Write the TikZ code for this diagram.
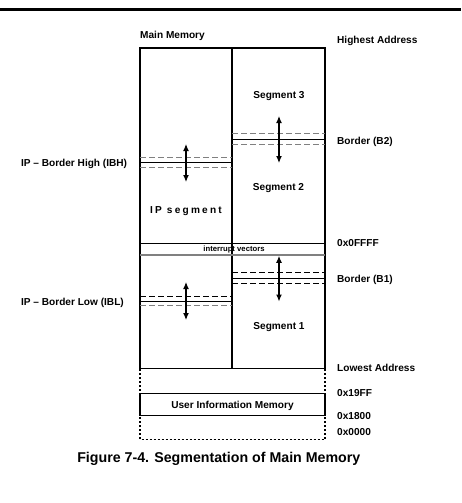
\documentclass[tikz,border=0pt]{standalone}
\usepackage{fontspec}
\setmainfont{Liberation Sans}
\usetikzlibrary{arrows.meta}
\begin{document}
\begin{tikzpicture}[x=1pt,y=-1pt,
  lbl/.style={font=\bfseries\fontsize{10.1}{12}\selectfont, inner sep=0pt, anchor=base west},
  lblr/.style={font=\bfseries\fontsize{10.1}{12}\selectfont, inner sep=0pt, anchor=base east},
  ctr/.style={font=\bfseries\fontsize{10.1}{12}\selectfont, inner sep=0pt, anchor=base},
  memframe/.style={line width=1.8pt},
  gdash/.style={black!50, line width=1.2pt, dash pattern=on 6pt off 3pt},
  bdash/.style={black, line width=1.2pt, dash pattern=on 6pt off 3pt},
  borderline/.style={line width=1.5pt},
  move/.style={line width=1.2pt, {Latex[length=7pt,width=6pt]}-{Latex[length=7pt,width=6pt]}},
  dotline/.style={line width=1.8pt, dash pattern=on 2pt off 2pt}
]
\useasboundingbox (0,0) rectangle (461,503);
\draw[line width=3.3pt] (0,9.3) -- (461,9.3);

% main memory frame
\draw[memframe] (140,48) rectangle (325,368.5);
\draw[memframe] (232,48) -- (232,368.5);

% interrupt vectors band
\draw[line width=1.1pt] (140,243.3) -- (325,243.3);
\draw[black!50, line width=1.8pt] (140,254.7) -- (325,254.7);
\node[font=\bfseries\fontsize{7.7}{9}\selectfont, inner sep=0pt, anchor=base] (iv) at (234,251.5) {interrupt vectors};

% user information memory
\draw[dotline] (140,369) -- (140,439.5) -- (325,439.5) -- (325,369);
\draw[memframe] (140,393.5) rectangle (325,415.5);
\node[ctr] (uim) at (232.5,408.5) {User Information Memory};

% IBH border
\draw[gdash] (140,157.7) -- (232,157.7);
\draw[borderline] (140,162.7) -- (232,162.7);
\draw[gdash] (140,167.3) -- (232,167.3);
% B2 border
\draw[gdash] (232,133.3) -- (325,133.3);
\draw[borderline] (232,139.3) -- (325,139.3);
\draw[gdash] (232,144.3) -- (325,144.3);
% B1 border
\draw[bdash] (232,272.7) -- (325,272.7);
\draw[borderline] (232,278.3) -- (325,278.3);
\draw[bdash] (232,283.3) -- (325,283.3);
% IBL border
\draw[bdash] (140,296.7) -- (232,296.7);
\draw[borderline] (140,301.3) -- (232,301.3);
\draw[gdash] (140,305.7) -- (232,305.7);

% movement arrows
\coordinate (ibhA) at (186,144);
\coordinate (ibhB) at (186,182);
\coordinate (iblA) at (186,282);
\coordinate (iblB) at (186,320);
\coordinate (btwoA) at (279,116);
\coordinate (btwoB) at (279,163);
\coordinate (boneA) at (279,255.8);
\coordinate (boneB) at (279,301.5);
\draw[move] (ibhA) -- (ibhB);
\draw[move] (iblA) -- (iblB);
\draw[move] (btwoA) -- (btwoB);
\draw[move] (boneA) -- (boneB);

% segment labels
\node[ctr] (seg3) at (279,98.5) {Segment 3};
\node[ctr] (seg2) at (278.5,190) {Segment 2};
\node[ctr] (seg1) at (279,329.5) {Segment 1};
\node[font=\bfseries\fontsize{10.1}{12}\selectfont\addfontfeature{LetterSpace=22}, inner sep=0pt, anchor=base] (ipseg) at (186,213) {IP segment};

% top labels
\node[lbl] (mm) at (140,39) {Main Memory};
\node[lbl] (high) at (337,43.5) {Highest Address};

% right labels
\node[lbl] (btwo) at (337,144.5) {Border (B2)};
\node[lbl] (fff) at (337,246.5) {0x0FFFF};
\node[lbl] (bone) at (337,282.5) {Border (B1)};
\node[lbl] (low) at (337,371.5) {Lowest Address};
\node[lbl] (a19) at (337,396.5) {0x19FF};
\node[lbl] (a18) at (337,419.5) {0x1800};
\node[lbl] (a00) at (337,435.5) {0x0000};

% left labels
\node[lblr] (ibh) at (127.3,166) {IP -- Border High (IBH)};
\node[lblr] (ibl) at (124,305) {IP -- Border Low (IBL)};

% caption
\node[font=\bfseries\fontsize{14.2}{16}\selectfont, inner sep=0pt, anchor=base] (cap) at (218.8,462) {Figure 7-4. Segmentation of Main Memory};
\end{tikzpicture}
\end{document}
